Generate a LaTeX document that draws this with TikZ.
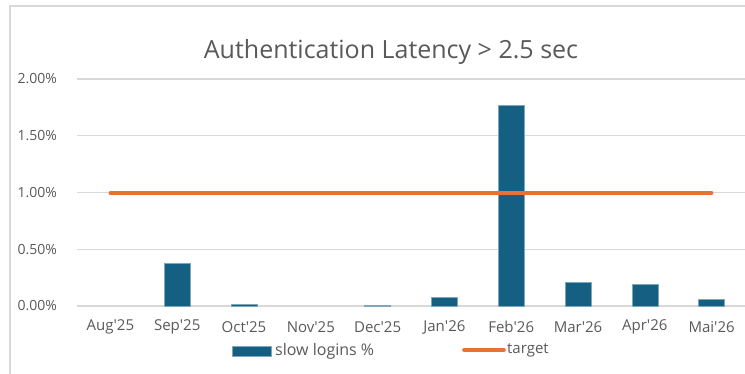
\documentclass[tikz,border=0pt]{standalone}
\usepackage{fontspec}
\setmainfont{Open Sans}
\usetikzlibrary{positioning}
\definecolor{barblue}{HTML}{156082}
\definecolor{targetorange}{HTML}{E97132}
\definecolor{gridgray}{HTML}{D9D9D9}
\definecolor{textgray}{HTML}{595959}

\begin{document}
\begin{tikzpicture}[
    x=1pt, y=-1pt,
    every node/.style={text=textgray, inner sep=0pt},
    grid/.style={draw=gridgray, line width=1.2pt},
    bar/.style={fill=barblue, draw=barblue!55!white, line width=0.6pt},
    target/.style={draw=targetorange, line width=3.6pt, line cap=round},
    ticklabel/.style={font=\fontsize{14}{16}\selectfont, anchor=east},
    catlabel/.style={font=\fontsize{15}{17}\selectfont, anchor=center},
    legendtext/.style={font=\fontsize{15}{17}\selectfont, anchor=west}
    ]
    \useasboundingbox (0,0) rectangle (745,374);

    % frame of the chart
    \draw[grid] (10,374) |- (745,6);

    % title
    \node[font=\fontsize{25}{28}\selectfont] (title) at (391,52) {Authentication Latency > 2.5 sec};

    % value axis: grid and labels
    \foreach \v [count=\k from 0] in {0.00,0.50,1.00,1.50,2.00} {
        \draw[grid] (77,{306-113.5*\v}) -- (745,{306-113.5*\v});
        \node[ticklabel] (tick\k) at (57,{306-113.5*\v}) {\v\%};
    }

    % months
    \foreach \m [count=\i from 0] in {Aug,Sep,Oct,Nov,Dec} {
        \node[catlabel] (cat\i) at ({110.4+66.8*\i},327) {\m\textquotesingle25};
    }
    \foreach \m [count=\i from 5] in {Jan,Feb,Mar,Apr,Mai} {
        \node[catlabel] (cat\i) at ({110.4+66.8*\i},327) {\m\textquotesingle26};
    }

    % slow logins
    \foreach \v [count=\i from 0] in {0,0.38,0.016,0,0.01,0.073,1.765,0.21,0.195,0.058} {
        \pgfmathsetmacro\xc{110.4+66.8*\i}
        \ifdim\v pt>0pt
            \draw[bar] (\xc-13,306) rectangle (\xc+13,{306-113.5*\v});
        \fi
    }

    % target
    \coordinate (t0) at (110.4,193);
    \coordinate (t9) at (711.6,193);
    \draw[target] (t0) -- (t9);

    % legend
    \coordinate (keybar) at (232,351);
    \draw[bar] (232,346) rectangle (271,356);
    \node[legendtext, font=\fontsize{16}{18}\selectfont] (keybartext) at (275,351) {slow logins \%};
    \coordinate (keyline) at (464,350);
    \draw[target] (keyline) -- ++(40,0) coordinate (keyend);
    \node[legendtext, right=3pt of keyend] (keylinetext) {target};
\end{tikzpicture}
\end{document}
